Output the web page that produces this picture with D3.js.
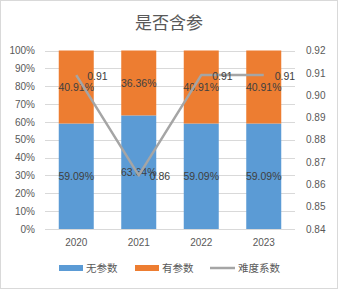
<!DOCTYPE html>
<html>
<head>
<meta charset="utf-8">
<script src="https://cdnjs.cloudflare.com/ajax/libs/d3/7.8.5/d3.min.js"></script>
<style>
body { margin: 0; background: #fff; }
text { font-family: "Liberation Sans", "Noto Sans CJK SC", sans-serif; }
.cjk { font-family: "Noto Sans CJK SC", sans-serif; }
</style>
</head>
<body>
<div id="chart"></div>
<script>
// data
var years = ["2020", "2021", "2022", "2023"];
var noParam = [0.5909, 0.6364, 0.5909, 0.5909];
var withParam = [0.4091, 0.3636, 0.4091, 0.4091];
var difficulty = [0.909, 0.864, 0.909, 0.909];
var diffLabels = ["0.91", "0.86", "0.91", "0.91"];
var leftTicks = [0, 0.1, 0.2, 0.3, 0.4, 0.5, 0.6, 0.7, 0.8, 0.9, 1];
var rightTicks = [0.84, 0.85, 0.86, 0.87, 0.88, 0.89, 0.90, 0.91, 0.92];

var w = 338, h = 289;
var plotLeft = 45, plotRight = 295, plotTop = 50.5, plotBottom = 229;

var svg = d3.select("#chart").append("svg").attr("width", w).attr("height", h);

// outer border
svg.append("rect").attr("x", 0.5).attr("y", 0.5).attr("width", w - 1).attr("height", h - 1)
    .attr("fill", "#fff").attr("stroke", "#D9D9D9");

var xScale = d3.scaleBand().domain(years).range([plotLeft, plotRight]).paddingInner(0.44).paddingOuter(0.22);
var yScale = d3.scaleLinear().domain([0, 1]).range([plotBottom, plotTop]);
var y2Scale = d3.scaleLinear().domain([0.84, 0.92]).range([plotBottom, plotTop]);

// title
svg.append("text").attr("class", "cjk").attr("x", 169).attr("y", 29).attr("text-anchor", "middle")
    .style("font-size", "17px").style("fill", "#595959").text("是否含参");

// grid lines
svg.append("g").selectAll("line").data(leftTicks).enter().append("line")
    .attr("x1", plotLeft).attr("x2", plotRight)
    .attr("y1", function(d) { return Math.round(yScale(d)) + 0.5; })
    .attr("y2", function(d) { return Math.round(yScale(d)) + 0.5; })
    .attr("stroke", "#D9D9D9").attr("stroke-width", 1);

// left axis
var yAxis = d3.axisLeft(yScale).tickValues(leftTicks).tickFormat(d3.format(".0%")).tickSize(0).tickPadding(10);
var gy = svg.append("g").attr("transform", "translate(" + plotLeft + ",0)").call(yAxis);
gy.select(".domain").remove();
gy.selectAll("text").style("font-size", "10px").style("fill", "#595959").style("font-family", "Liberation Sans");

// right axis
var y2Axis = d3.axisRight(y2Scale).tickValues(rightTicks).tickFormat(d3.format(".2f")).tickSize(0).tickPadding(11);
var gy2 = svg.append("g").attr("transform", "translate(" + plotRight + ",0)").call(y2Axis);
gy2.select(".domain").remove();
gy2.selectAll("text").style("font-size", "10px").style("fill", "#595959").style("font-family", "Liberation Sans");

// x axis
var xAxis = d3.axisBottom(xScale).tickSize(0).tickPadding(10);
var gx = svg.append("g").attr("transform", "translate(0," + plotBottom + ")").call(xAxis);
gx.select(".domain").remove();
gx.selectAll("text").style("font-size", "10px").style("fill", "#595959").style("font-family", "Liberation Sans");

// stacked bars
svg.append("g").selectAll("rect").data(years).enter().append("rect")
    .attr("x", function(d) { return xScale(d); })
    .attr("width", xScale.bandwidth())
    .attr("y", function(d, i) { return yScale(noParam[i]); })
    .attr("height", function(d, i) { return yScale(0) - yScale(noParam[i]); })
    .attr("fill", "#5B9BD5");
svg.append("g").selectAll("rect").data(years).enter().append("rect")
    .attr("x", function(d) { return xScale(d); })
    .attr("width", xScale.bandwidth())
    .attr("y", function(d, i) { return yScale(noParam[i] + withParam[i]); })
    .attr("height", function(d, i) { return yScale(noParam[i]) - yScale(noParam[i] + withParam[i]); })
    .attr("fill", "#ED7D31");

// bar labels
var pct = d3.format(".2%");
svg.append("g").selectAll("text").data(years).enter().append("text")
    .attr("x", function(d) { return xScale(d) + xScale.bandwidth() / 2; })
    .attr("y", function(d, i) { return yScale(noParam[i] / 2); })
    .attr("text-anchor", "middle").attr("dy", "0.35em")
    .style("font-size", "10.5px").style("fill", "#404040")
    .text(function(d, i) { return pct(noParam[i]); });
svg.append("g").selectAll("text").data(years).enter().append("text")
    .attr("x", function(d) { return xScale(d) + xScale.bandwidth() / 2; })
    .attr("y", function(d, i) { return yScale(noParam[i] + withParam[i] / 2); })
    .attr("text-anchor", "middle").attr("dy", "0.35em")
    .style("font-size", "10.5px").style("fill", "#404040")
    .text(function(d, i) { return pct(withParam[i]); });

// difficulty line
var line = d3.line()
    .x(function(d, i) { return xScale(years[i]) + xScale.bandwidth() / 2; })
    .y(function(d) { return y2Scale(d); });
svg.append("path").datum(difficulty).attr("d", line)
    .attr("fill", "none").attr("stroke", "#A5A5A5").attr("stroke-width", 2.5).attr("stroke-linejoin", "round");

svg.append("g").selectAll("text").data(difficulty).enter().append("text")
    .attr("x", function(d, i) { return xScale(years[i]) + xScale.bandwidth() / 2 + 11; })
    .attr("y", function(d) { return y2Scale(d) + 1; })
    .attr("dy", "0.35em")
    .style("font-size", "10.5px").style("fill", "#404040")
    .text(function(d, i) { return diffLabels[i]; });

// legend
var legend = svg.append("g");
legend.append("rect").attr("x", 59).attr("y", 265).attr("width", 24).attr("height", 6).attr("fill", "#5B9BD5");
legend.append("text").attr("class", "cjk").attr("x", 86).attr("y", 268).attr("dy", "0.35em")
    .style("font-size", "10.5px").style("fill", "#595959").text("无参数");
legend.append("rect").attr("x", 135).attr("y", 265).attr("width", 24).attr("height", 6).attr("fill", "#ED7D31");
legend.append("text").attr("class", "cjk").attr("x", 162).attr("y", 268).attr("dy", "0.35em")
    .style("font-size", "10.5px").style("fill", "#595959").text("有参数");
legend.append("line").attr("x1", 210).attr("x2", 235).attr("y1", 268).attr("y2", 268)
    .attr("stroke", "#A5A5A5").attr("stroke-width", 2.5);
legend.append("text").attr("class", "cjk").attr("x", 238).attr("y", 268).attr("dy", "0.35em")
    .style("font-size", "10.5px").style("fill", "#595959").text("难度系数");
</script>
</body>
</html>
